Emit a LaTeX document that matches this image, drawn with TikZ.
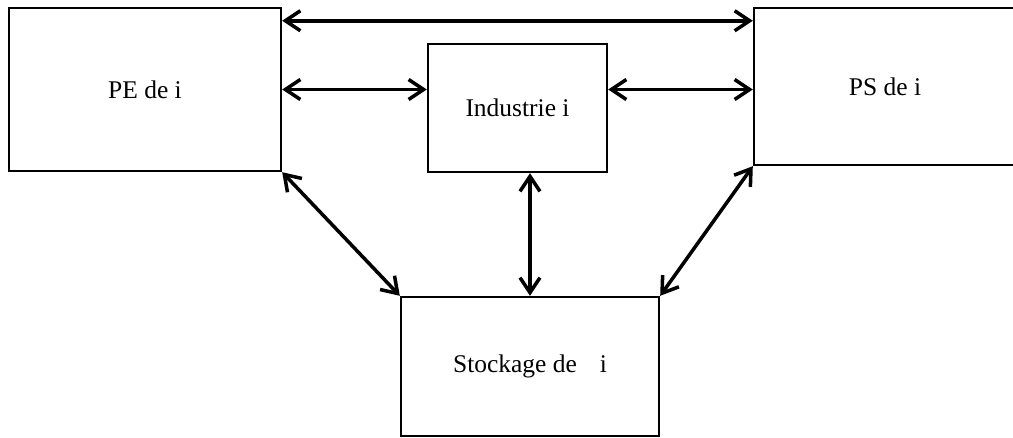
\documentclass[tikz,border=0pt]{standalone}
\usepackage{fontspec}
\setmainfont{Liberation Serif}
\usetikzlibrary{arrows.meta,calc,positioning}

\begin{document}
\begin{tikzpicture}[x=0.02cm,y=-0.02cm,
    box/.style={draw,line width=1.4pt,rectangle,inner sep=0pt,font=\fontsize{14.5}{17}\selectfont},
    link/.style={line width=2pt,{Straight Barb[length=0.3cm,width=0.4cm]}-{Straight Barb[length=0.3cm,width=0.4cm]}}]
    \clip (0,0) rectangle (1013,438);

    \node[box,minimum width=5.44cm,minimum height=3.26cm] (PE) at (145,89.5) {PE de i};
    \node[box,minimum width=3.58cm,minimum height=2.56cm] (ind) at (517.5,108) {Industrie i};
    \node[box,minimum width=5.24cm,minimum height=3.14cm] (PS) at (885,86.5) {PS de i};
    \node[box,minimum width=5.16cm,minimum height=2.78cm] (stock) at (530,366.5) {Stockage de\hspace{0.9em}i};

    \draw[link] ([yshift=-0.28cm]PE.north east) -- ([yshift=-0.28cm]PE.north east -| PS.west);
    \draw[link] (PE.east) -- (PE.east -| ind.west);
    \draw[link] (ind.east |- PE.east) -- (PE.east -| PS.west);
    \draw[link] (PE.south east) -- (stock.north west);
    \draw[link] (stock.north |- ind.south) -- (stock.north);
    \draw[link] (PS.south west) -- (stock.north east);
\end{tikzpicture}
\end{document}
